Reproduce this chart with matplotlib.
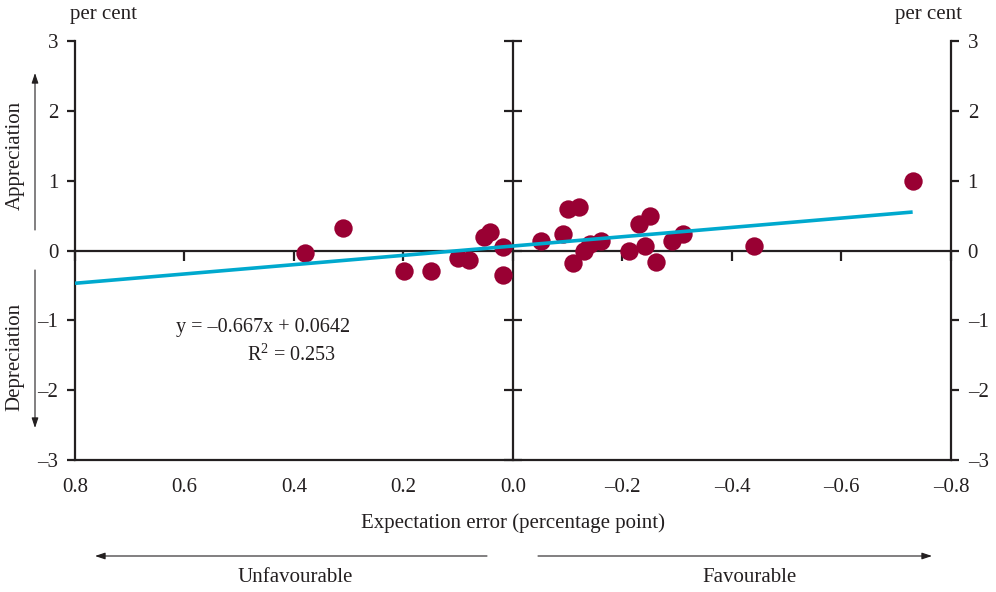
import numpy as np
import matplotlib
matplotlib.use("Agg")
import matplotlib.pyplot as plt
from matplotlib.ticker import FuncFormatter

plt.rcParams['font.family'] = ['Liberation Serif', 'DejaVu Serif']
plt.rcParams['mathtext.fontset'] = 'custom'
plt.rcParams['mathtext.rm'] = 'Liberation Serif'

# expectation error (percentage point) vs exchange rate reaction (per cent)
exp_error = [0.380, 0.311, 0.199, 0.150, 0.100, 0.080, 0.053, 0.042, 0.019, 0.019,
             -0.051, -0.091, -0.101, -0.121, -0.110, -0.130, -0.141, -0.161,
             -0.211, -0.230, -0.250, -0.241, -0.261, -0.290, -0.311, -0.441, -0.730]
fx_change = [-0.04, 0.32, -0.29, -0.29, -0.11, -0.13, 0.20, 0.26, 0.05, -0.35,
             0.13, 0.23, 0.60, 0.63, -0.18, -0.01, 0.09, 0.13,
             0.00, 0.38, 0.50, 0.07, -0.17, 0.14, 0.24, 0.07, 0.99]
slope = -0.667
intercept = 0.0642
r_sq = 0.253

xticks = [0.8, 0.6, 0.4, 0.2, 0.0, -0.2, -0.4, -0.6, -0.8]
yticks = [3, 2, 1, 0, -1, -2, -3]

dot_col = '#990033'
line_col = '#00A9CE'
ink = '#231F20'
fs = 15

def xfmt(v, pos):
    return f"{v:.1f}".replace('-', '\u2013')

def yfmt(v, pos):
    return f"{v:.0f}".replace('-', '\u2013')

fig = plt.figure(figsize=(9.96, 5.92), dpi=100)
rect = [0.0753, 0.2230, 0.8795, 0.7077]
ax = fig.add_axes(rect)
ax.set_xlim(0.8, -0.8)
ax.set_ylim(-3, 3)
for s in ['left', 'right', 'bottom']:
    ax.spines[s].set_linewidth(1.6)
    ax.spines[s].set_color(ink)
ax.spines['top'].set_visible(False)
ax.set_xticks(xticks)
ax.set_yticks(yticks)
ax.xaxis.set_major_formatter(FuncFormatter(xfmt))
ax.yaxis.set_major_formatter(FuncFormatter(yfmt))
ax.tick_params(axis='x', length=0, labelsize=fs, pad=13, colors=ink)
ax.tick_params(axis='y', direction='out', length=6, width=1.6, labelsize=fs,
               left=True, right=True, labelleft=True, labelright=True, pad=6,
               colors=ink)

# centre cross axes
ax2 = fig.add_axes(rect, sharex=ax, sharey=ax)
ax2.patch.set_alpha(0)
ax2.spines['top'].set_visible(False)
ax2.spines['right'].set_visible(False)
ax2.spines['left'].set_position(('data', 0))
ax2.spines['bottom'].set_position(('data', 0))
for s in ['left', 'bottom']:
    ax2.spines[s].set_linewidth(1.6)
    ax2.spines[s].set_color(ink)
ax2.tick_params(axis='y', direction='inout', length=13, width=1.6, colors=ink,
                labelleft=False)
ax2.tick_params(axis='x', direction='out', length=7, width=1.6, colors=ink,
                labelbottom=False)

ax2.scatter(exp_error, fx_change, s=175, color=dot_col, zorder=3, linewidths=0)
xl = np.array([0.8, min(exp_error)])
ax2.plot(xl, slope * xl + intercept, color=line_col, lw=2.6, zorder=4,
         solid_capstyle='butt')

ax2.text(0.457, -1.10, "y = \u20130.667x + 0.0642", fontsize=14.5, ha='center',
         va='center', color=ink)
ax2.text(0.404, -1.49, f"R$^2$ = {r_sq}", fontsize=14.5, ha='center', va='center',
         color=ink)

fig.text(70 / 996, 1 - 14 / 592, "per cent", fontsize=fs, ha='left', va='center', color=ink)
fig.text(962 / 996, 1 - 14 / 592, "per cent", fontsize=fs, ha='right', va='center', color=ink)

fig.text(15 / 996, 1 - 155 / 592, "Appreciation", fontsize=fs, rotation=90,
         ha='center', va='center', color=ink)
fig.text(15 / 996, 1 - 357 / 592, "Depreciation", fontsize=fs, rotation=90,
         ha='center', va='center', color=ink)
arr = dict(arrowstyle='-|>,head_length=0.6,head_width=0.2', color=ink, lw=0.8,
           shrinkA=0, shrinkB=0)
ax.annotate("", xy=(35 / 996, 1 - 73 / 592), xytext=(35 / 996, 1 - 230 / 592),
            xycoords='figure fraction', textcoords='figure fraction', arrowprops=arr)
ax.annotate("", xy=(35 / 996, 1 - 428 / 592), xytext=(35 / 996, 1 - 270 / 592),
            xycoords='figure fraction', textcoords='figure fraction', arrowprops=arr)
ax.annotate("", xy=(95 / 996, 1 - 556 / 592), xytext=(487 / 996, 1 - 556 / 592),
            xycoords='figure fraction', textcoords='figure fraction', arrowprops=arr)
ax.annotate("", xy=(932 / 996, 1 - 556 / 592), xytext=(538 / 996, 1 - 556 / 592),
            xycoords='figure fraction', textcoords='figure fraction', arrowprops=arr)

fig.text(513 / 996, 1 - 523 / 592, "Expectation error (percentage point)", fontsize=fs,
         ha='center', va='center', color=ink)
fig.text(295 / 996, 1 - 578 / 592, "Unfavourable", fontsize=fs, ha='center',
         va='center', color=ink)
fig.text(749 / 996, 1 - 578 / 592, "Favourable", fontsize=fs, ha='center',
         va='center', color=ink)

fig.savefig("out.png", dpi=100)
